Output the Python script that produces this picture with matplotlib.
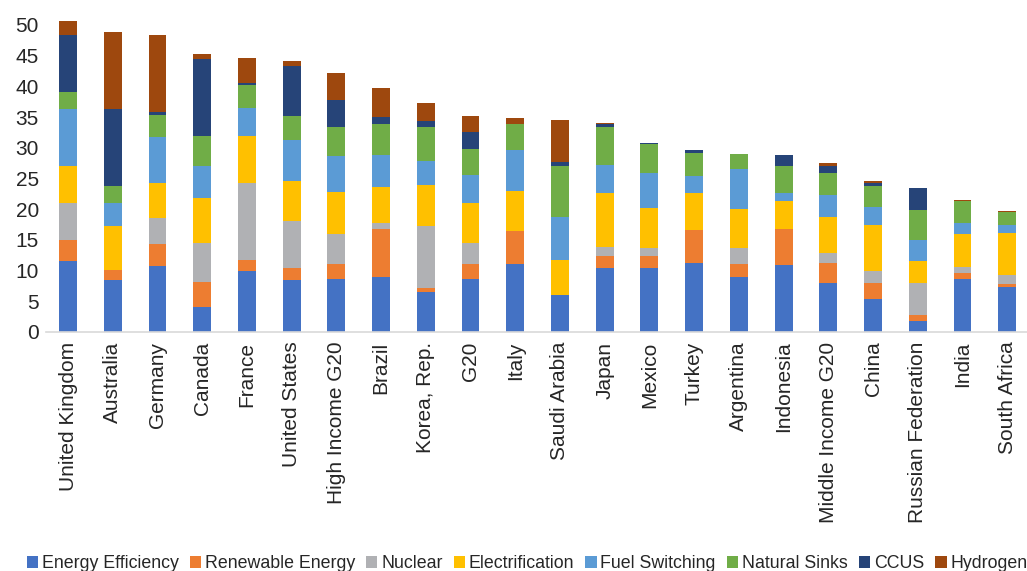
import matplotlib.pyplot as plt
import numpy as np

countries = ["United Kingdom", "Australia", "Germany", "Canada", "France", "United States",
             "High Income G20", "Brazil", "Korea, Rep.", "G20", "Italy", "Saudi Arabia", "Japan",
             "Mexico", "Turkey", "Argentina", "Indonesia", "Middle Income G20", "China",
             "Russian Federation", "India", "South Africa"]

energy_efficiency = [11.6, 8.4, 10.7, 4.0, 10.0, 8.4, 8.7, 8.9, 6.45, 8.6, 11.15, 5.95, 10.35,
                     10.35, 11.3, 8.95, 10.85, 8.05, 5.45, 1.75, 8.55, 7.25]
renewable_energy = [3.4, 1.7, 3.7, 4.2, 1.8, 2.1, 2.4, 7.9, 0.65, 2.55, 5.25, 0.0, 1.95,
                    1.95, 5.35, 2.05, 5.85, 3.25, 2.45, 1.0, 1.0, 0.5]
nuclear = [6.0, 0.0, 4.1, 6.3, 12.4, 7.5, 4.9, 0.9, 10.1, 3.4, 0.0, 0.0, 1.6,
           1.3, 0.0, 2.6, 0.0, 1.6, 1.95, 5.2, 1.0, 1.45]
electrification = [6.1, 7.15, 5.7, 7.3, 7.75, 6.6, 6.8, 5.85, 6.7, 6.4, 6.6, 5.7, 8.8,
                   6.65, 6.0, 6.35, 4.55, 5.75, 7.65, 3.55, 5.35, 7.0]
fuel_switching = [9.2, 3.7, 7.6, 5.3, 4.6, 6.7, 5.85, 5.2, 4.0, 4.65, 6.7, 7.15, 4.45,
                  5.6, 2.8, 6.55, 1.35, 3.6, 2.9, 3.4, 1.85, 1.3]
natural_sinks = [2.8, 2.9, 3.6, 4.8, 3.7, 3.85, 4.7, 5.15, 5.5, 4.2, 4.2, 8.3, 6.3,
                 4.8, 3.7, 2.55, 4.35, 3.7, 3.4, 4.9, 3.5, 2.1]
ccus = [9.3, 12.5, 0.5, 12.5, 0.3, 8.1, 4.4, 1.1, 0.9, 2.8, 0.0, 0.65, 0.5,
        0.16, 0.5, 0.0, 1.95, 1.0, 0.5, 3.6, 0.16, 0.0]
hydrogen = [2.3, 12.5, 12.5, 0.8, 4.1, 0.8, 4.4, 4.7, 3.0, 2.6, 1.0, 6.8, 0.16,
            0.0, 0.0, 0.0, 0.0, 0.65, 0.33, 0.0, 0.16, 0.16]

series = [("Energy Efficiency", energy_efficiency, "#4472C4"),
          ("Renewable Energy", renewable_energy, "#ED7D31"),
          ("Nuclear", nuclear, "#B0B1B4"),
          ("Electrification", electrification, "#FFC000"),
          ("Fuel Switching", fuel_switching, "#5B9BD5"),
          ("Natural Sinks", natural_sinks, "#70AD47"),
          ("CCUS", ccus, "#264478"),
          ("Hydrogen", hydrogen, "#9E480E")]

plt.rcParams['font.family'] = ['Liberation Sans', 'DejaVu Sans']

fig = plt.figure(figsize=(10.27, 5.71), dpi=100)
ax = fig.add_axes([0.0445, 0.4186, 0.958, 0.5592])

x = np.arange(len(countries))
bottom = np.zeros(len(countries))
for name, vals, color in series:
    ax.bar(x, vals, 0.4, bottom=bottom, color=color, label=name)
    bottom += np.array(vals)

ax.set_xlim(-0.5, 21.5)
ax.set_ylim(0, 52)
ax.set_yticks(range(0, 51, 5))
ax.set_xticks(x)
ax.set_xticklabels(countries, rotation=90, fontsize=15, color="#262626")
ax.tick_params(axis='y', labelsize=15, labelcolor="#262626", length=0, pad=5)
ax.tick_params(axis='x', length=0, pad=7)
for s in ["top", "right", "left"]:
    ax.spines[s].set_visible(False)
ax.spines["bottom"].set_color("#D9D9D9")
ax.spines["bottom"].set_linewidth(1.2)

fig.legend(loc="lower center", bbox_to_anchor=(0.513, -0.03), ncol=8, frameon=False,
           fontsize=12.8, handlelength=0.65, handleheight=0.65, handletextpad=0.2,
           columnspacing=0.62, labelcolor="#262626")

fig.savefig("out.png", dpi=100)
